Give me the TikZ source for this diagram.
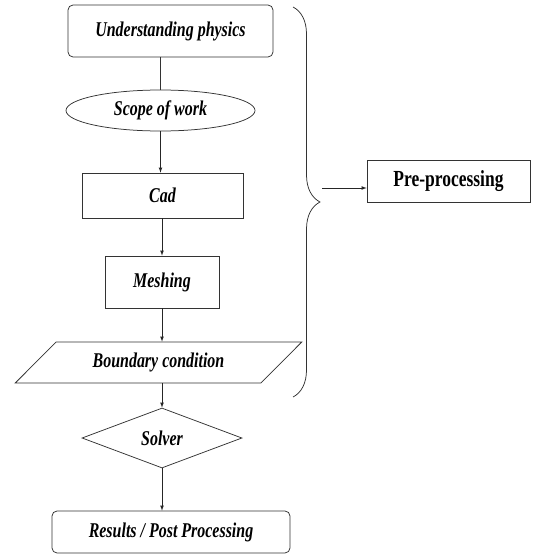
\documentclass[tikz,border=0pt]{standalone}
\usepackage{fontspec}
\setmainfont{Liberation Serif}
\newfontfamily\condserif[FakeStretch=0.76]{Liberation Serif}
\usetikzlibrary{shapes.geometric,decorations.pathreplacing}

\tikzset{
  stage/.style={draw=black!80, line width=0.75pt, inner sep=0pt,
    font=\condserif\bfseries\itshape\fontsize{21}{24}\selectfont},
  rstage/.style={stage, rectangle, rounded corners=5pt},
  flow/.style={draw=black!85, line width=0.75pt, -latex},
}

\begin{document}
\begin{tikzpicture}[x=1pt,y=-1pt]
                    \useasboundingbox (0,0) rectangle (535,554);
                    % Nodes
                    \node[rstage, minimum width=205, minimum height=52] (phys) at (170.5,31) {Understanding physics};
                    \node[stage, ellipse, minimum width=189, minimum height=41] (scope) at (160.5,110.5) {Scope of work};
                    \node[stage, rectangle, minimum width=161, minimum height=45] (cad) at (162.5,195.5) {Cad};
                    \node[stage, rectangle, minimum width=114, minimum height=52] (mesh) at (162,282) {Meshing};
                    \node[stage, trapezium, trapezium left angle=36, trapezium right angle=144,
                          trapezium stretches=true, minimum width=287, minimum height=41] (bc) at (158.5,362.5) {Boundary condition};
                    \node[stage, diamond, minimum width=160, minimum height=60] (solver) at (162,438) {Solver};
                    \node[rstage, minimum width=238, minimum height=42] (res) at (171,532) {Results / Post Processing};
                    \node[draw=black!80, line width=0.75pt, minimum width=163, minimum height=42,
                          font=\condserif\bfseries\fontsize{23}{26}\selectfont] (pre) at (448.5,181) {Pre-processing};
                    % Edges
                    \draw[draw=black!80, line width=0.75pt] (scope.north |- phys.south) -- (scope.north);
                    \draw[flow] (scope.south) -- (scope.south |- cad.north);
                    \draw[flow] (mesh.north |- cad.south) -- (mesh.north);
                    \draw[flow] (mesh.south) -- (mesh.south |- bc.north);
                    \draw[flow] (solver.north |- bc.south) -- (solver.north);
                    \draw[flow] (solver.south) -- (solver.south |- res.north);
                    % Brace
                    \draw[draw=black!80, line width=0.75pt, decorate, decoration={brace, amplitude=27pt}] (293,7) -- (293,397);
                    \coordinate (tip) at (322,188);
                    \draw[flow] (tip) -- (tip -| pre.west);
                \end{tikzpicture}
\end{document}
